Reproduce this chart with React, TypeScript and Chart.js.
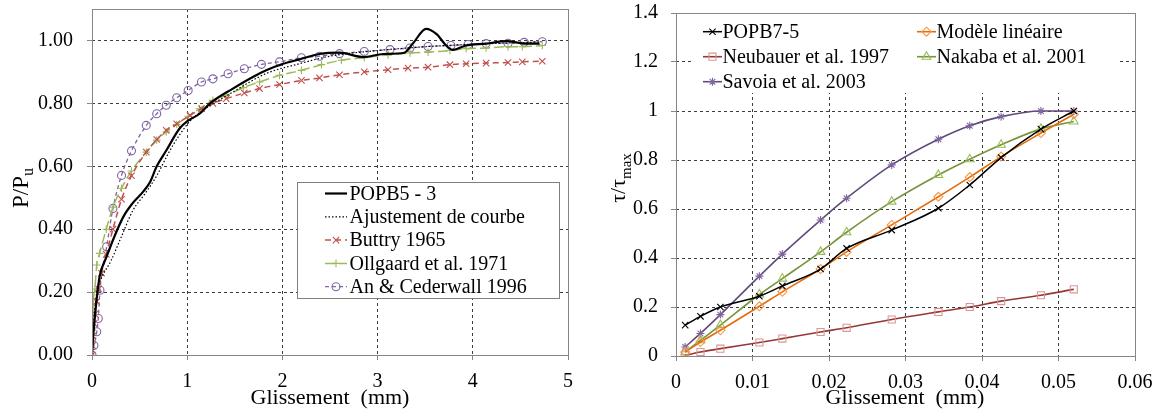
import React, { useEffect, useRef } from 'react';
import { Chart, registerables } from 'chart.js';

Chart.register(...registerables);

const FONT = '"Liberation Serif", "DejaVu Serif", serif';

// ---------------- Left chart: P/Pu vs Glissement (mm) ----------------
const popb53X = [0, 0.01, 0.03, 0.05, 0.08, 0.15, 0.24, 0.33, 0.42, 0.54, 0.61, 0.68, 0.78, 0.92, 1.01, 1.13, 1.24, 1.48, 1.69, 1.83, 2.0, 2.18, 2.39, 2.6, 2.85, 3.06, 3.28, 3.37, 3.51, 3.62, 3.72, 3.79, 3.93, 4.14, 4.35, 4.56, 4.7];
const popb53Y = [0, 0.05, 0.12, 0.18, 0.25, 0.31, 0.38, 0.44, 0.48, 0.52, 0.55, 0.6, 0.65, 0.72, 0.745, 0.767, 0.8, 0.847, 0.884, 0.905, 0.925, 0.94, 0.957, 0.961, 0.947, 0.957, 0.961, 0.99, 1.037, 1.02, 0.984, 0.97, 0.984, 0.99, 0.998, 0.99, 0.99];

const fitX = [0, 0.02, 0.05, 0.1, 0.2, 0.3, 0.43, 0.55, 0.68, 0.8, 0.92, 1.05, 1.2, 1.48, 1.83, 2.18, 2.5, 3.0, 3.5, 4.0, 4.7];
const fitY = [0, 0.11, 0.2, 0.245, 0.3, 0.37, 0.46, 0.51, 0.57, 0.64, 0.7, 0.75, 0.785, 0.836, 0.895, 0.926, 0.95, 0.968, 0.98, 0.988, 0.995];

const buttryX = [0, 0.005, 0.01, 0.02, 0.03, 0.05, 0.07, 0.1, 0.15, 0.22, 0.31, 0.415, 0.57, 0.68, 0.78, 0.89, 1.03, 1.15, 1.27, 1.41, 1.6, 1.76, 1.97, 2.2, 2.39, 2.6, 2.86, 3.11, 3.32, 3.53, 3.76, 3.93, 4.14, 4.37, 4.52, 4.73];
const buttryY = [0, 0.03, 0.06, 0.1, 0.13, 0.17, 0.21, 0.26, 0.32, 0.4, 0.495, 0.57, 0.645, 0.685, 0.714, 0.735, 0.762, 0.783, 0.8, 0.815, 0.833, 0.847, 0.86, 0.873, 0.881, 0.891, 0.9, 0.907, 0.912, 0.915, 0.923, 0.926, 0.928, 0.93, 0.932, 0.934];

const ollgaardX = [0, 0.002, 0.005, 0.01, 0.015, 0.03, 0.05, 0.08, 0.15, 0.22, 0.31, 0.415, 0.57, 0.68, 0.78, 0.89, 1.01, 1.13, 1.27, 1.41, 1.59, 1.76, 1.97, 2.2, 2.41, 2.62, 2.86, 3.11, 3.34, 3.53, 3.76, 3.93, 4.14, 4.37, 4.52, 4.73];
const ollgaardY = [0, 0.04, 0.08, 0.13, 0.175, 0.21, 0.286, 0.323, 0.4, 0.47, 0.53, 0.585, 0.645, 0.683, 0.709, 0.733, 0.759, 0.783, 0.81, 0.825, 0.85, 0.868, 0.889, 0.905, 0.923, 0.937, 0.945, 0.954, 0.96, 0.963, 0.968, 0.974, 0.976, 0.98, 0.98, 0.984];

const anX = [0, 0.02, 0.05, 0.066, 0.084, 0.154, 0.22, 0.31, 0.415, 0.57, 0.68, 0.78, 0.89, 1.01, 1.15, 1.27, 1.43, 1.6, 1.78, 1.97, 2.2, 2.39, 2.6, 2.86, 3.13, 3.34, 3.53, 3.77, 3.95, 4.14, 4.37, 4.54, 4.73];
const anY = [0, 0.03, 0.074, 0.116, 0.206, 0.344, 0.466, 0.571, 0.649, 0.73, 0.767, 0.794, 0.818, 0.841, 0.868, 0.878, 0.894, 0.91, 0.924, 0.932, 0.945, 0.95, 0.958, 0.965, 0.971, 0.976, 0.981, 0.984, 0.987, 0.99, 0.991, 0.994, 0.996];

const leftLabels = ['POPB5 - 3', 'Ajustement de courbe', 'Buttry 1965', 'Ollgaard et al. 1971', 'An & Cederwall 1996'];

// ---------------- Right chart: tau/tau_max vs Glissement (mm) ----------------
const slipX = [0.0012, 0.0032, 0.0058, 0.0109, 0.0139, 0.0189, 0.0223, 0.0282, 0.0343, 0.0384, 0.0425, 0.0477, 0.052];
const popb75Y = [0.126, 0.162, 0.2, 0.244, 0.286, 0.355, 0.439, 0.514, 0.603, 0.698, 0.81, 0.926, 1.0];
const lineaireY = [0.016, 0.057, 0.105, 0.203, 0.262, 0.355, 0.425, 0.535, 0.65, 0.73, 0.814, 0.91, 0.987];
const neubauerY = [0.003, 0.016, 0.03, 0.055, 0.071, 0.098, 0.115, 0.149, 0.18, 0.2, 0.224, 0.248, 0.272];
const nakabaY = [0.016, 0.064, 0.126, 0.251, 0.316, 0.425, 0.505, 0.63, 0.739, 0.803, 0.862, 0.927, 0.957];
const savoiaY = [0.037, 0.092, 0.169, 0.326, 0.416, 0.555, 0.644, 0.78, 0.885, 0.94, 0.977, 1.0, 1.0];

const rightLabels = ['POPB7-5', 'Modèle linéaire', 'Neubauer et al. 1997', 'Nakaba et al. 2001', 'Savoia et al. 2003'];

const xTitle = 'Glissement  (mm)';

const pts = (xs: number[], ys: number[]) => xs.map((x, i) => ({ x, y: ys[i] }));

function drawMarker(ctx: CanvasRenderingContext2D, style: string, x: number, y: number, r: number, color: string, lw: number) {
  ctx.save();
  ctx.setLineDash([]);
  ctx.strokeStyle = color;
  ctx.lineWidth = lw;
  ctx.beginPath();
  const d = r * Math.SQRT1_2;
  switch (style) {
    case 'circle':
      ctx.arc(x, y, r, 0, Math.PI * 2);
      break;
    case 'cross':
      ctx.moveTo(x - r, y); ctx.lineTo(x + r, y);
      ctx.moveTo(x, y - r); ctx.lineTo(x, y + r);
      break;
    case 'crossRot':
      ctx.moveTo(x - d, y - d); ctx.lineTo(x + d, y + d);
      ctx.moveTo(x - d, y + d); ctx.lineTo(x + d, y - d);
      break;
    case 'star':
      ctx.moveTo(x - r, y); ctx.lineTo(x + r, y);
      ctx.moveTo(x, y - r); ctx.lineTo(x, y + r);
      ctx.moveTo(x - d, y - d); ctx.lineTo(x + d, y + d);
      ctx.moveTo(x - d, y + d); ctx.lineTo(x + d, y - d);
      break;
    case 'rect':
      ctx.rect(x - d, y - d, 2 * d, 2 * d);
      break;
    case 'rectRot':
      ctx.moveTo(x, y - r); ctx.lineTo(x + r, y); ctx.lineTo(x, y + r); ctx.lineTo(x - r, y); ctx.closePath();
      break;
    case 'triangle':
      ctx.moveTo(x, y - r);
      ctx.lineTo(x + 0.866 * r, y + 0.5 * r);
      ctx.lineTo(x - 0.866 * r, y + 0.5 * r);
      ctx.closePath();
      break;
  }
  ctx.stroke();
  ctx.restore();
}

type LegendPos = { x1: number; x2: number; tx: number; y: number };

function makeDecor(cfg: {
  legendBox: { x: number; y: number; w: number; h: number; stroke: boolean };
  legendPos: LegendPos[];
  xTitleX: number; xTitleY: number;
  yTitleMain: string; yTitleSub: string; yTitleX: number; yTitleY: number; yTitleSize: number; ySubSize: number; ySubOffset: number;
}) {
  return {
    id: 'decor',
    afterDraw(chart: any) {
      const ctx: CanvasRenderingContext2D = chart.ctx;
      const a = chart.chartArea;
      ctx.save();
      const b = cfg.legendBox;
      ctx.fillStyle = '#ffffff';
      ctx.fillRect(b.x, b.y, b.w, b.h);
      if (b.stroke) {
        ctx.strokeStyle = '#7f7f7f';
        ctx.lineWidth = 1;
        ctx.setLineDash([]);
        ctx.strokeRect(Math.round(b.x) + 0.5, Math.round(b.y) + 0.5, Math.round(b.w), Math.round(b.h));
      }
      ctx.strokeStyle = '#868686';
      ctx.lineWidth = 1;
      ctx.setLineDash([]);
      ctx.strokeRect(Math.round(a.left) + 0.5, Math.round(a.top) + 0.5, Math.round(a.right - a.left), Math.round(a.bottom - a.top));
      chart.data.datasets.forEach((ds: any, i: number) => {
        const p = cfg.legendPos[i];
        if (!p) return;
        ctx.save();
        ctx.strokeStyle = ds.borderColor;
        ctx.lineWidth = ds.borderWidth;
        ctx.setLineDash(ds.borderDash || []);
        ctx.beginPath();
        ctx.moveTo(p.x1, p.y);
        ctx.lineTo(p.x2, p.y);
        ctx.stroke();
        ctx.restore();
        if (ds.pointRadius > 0) {
          drawMarker(ctx, ds.pointStyle, (p.x1 + p.x2) / 2, p.y, ds.pointRadius, ds.pointBorderColor, ds.pointBorderWidth);
        }
        ctx.fillStyle = '#000';
        ctx.font = `20px ${FONT}`;
        ctx.textAlign = 'left';
        ctx.textBaseline = 'middle';
        ctx.fillText(ds.label, p.tx, p.y + 1);
      });
      ctx.fillStyle = '#000';
      ctx.font = `22px ${FONT}`;
      ctx.textAlign = 'center';
      ctx.textBaseline = 'middle';
      ctx.fillText(xTitle, cfg.xTitleX, cfg.xTitleY);
      ctx.save();
      ctx.translate(cfg.yTitleX, cfg.yTitleY);
      ctx.rotate(-Math.PI / 2);
      ctx.textAlign = 'left';
      ctx.textBaseline = 'alphabetic';
      ctx.font = `${cfg.yTitleSize}px ${FONT}`;
      const wMain = ctx.measureText(cfg.yTitleMain).width;
      ctx.font = `${cfg.ySubSize}px ${FONT}`;
      const wSub = ctx.measureText(cfg.yTitleSub).width;
      const start = -(wMain + wSub) / 2;
      ctx.font = `${cfg.yTitleSize}px ${FONT}`;
      ctx.fillText(cfg.yTitleMain, start, 0);
      ctx.font = `${cfg.ySubSize}px ${FONT}`;
      ctx.fillText(cfg.yTitleSub, start + wMain, cfg.ySubOffset);
      ctx.restore();
      ctx.restore();
    },
  };
}

function axisCommon(extra: any) {
  return {
    type: 'linear',
    grid: {
      color: '#3c3c3c',
      lineWidth: 1,
      drawTicks: true,
      tickLength: 5,
      tickColor: '#868686',
      tickBorderDash: [],
      tickWidth: 1,
    },
    border: { display: false, dash: [3, 3] },
    ...extra,
  };
}

const fitX_ = (h: number) => (s: any) => { s.height = h; s.paddingLeft = 0; s.paddingRight = 0; s.paddingTop = 0; s.paddingBottom = 0; };
const fitY_ = (w: number) => (s: any) => { s.width = w; s.paddingLeft = 0; s.paddingRight = 0; s.paddingTop = 0; s.paddingBottom = 0; };

function leftConfig(): any {
  const mk = (label: string, xs: number[], ys: number[], o: any) => ({
    label,
    data: pts(xs, ys),
    showLine: true,
    fill: false,
    cubicInterpolationMode: 'monotone',
    pointBackgroundColor: 'rgba(0,0,0,0)',
    pointBorderWidth: 1.1,
    pointRadius: 0,
    ...o,
  });
  const datasets = [
    mk(leftLabels[0], popb53X, popb53Y, { borderColor: '#000000', borderWidth: 2.2, borderDash: [] }),
    mk(leftLabels[1], fitX, fitY, { borderColor: '#000000', borderWidth: 1.2, borderDash: [1.5, 2] }),
    mk(leftLabels[2], buttryX, buttryY, { borderColor: '#C0504D', borderWidth: 1.5, borderDash: [6, 4], pointStyle: 'crossRot', pointRadius: 4.5, pointBorderColor: '#C0504D' }),
    mk(leftLabels[3], ollgaardX, ollgaardY, { borderColor: '#9BBB59', borderWidth: 1.5, borderDash: [10, 4], pointStyle: 'cross', pointRadius: 3.8, pointBorderColor: '#9BBB59' }),
    mk(leftLabels[4], anX, anY, { borderColor: '#8064A2', borderWidth: 1.3, borderDash: [4, 3], pointStyle: 'circle', pointRadius: 4, pointBorderColor: '#8064A2' }),
  ];
  return {
    type: 'scatter',
    data: { datasets },
    options: {
      responsive: false,
      animation: false,
      devicePixelRatio: 1,
      events: [],
      layout: { padding: { left: 0, right: 12, top: 9, bottom: 0 } },
      plugins: { legend: { display: false }, tooltip: { enabled: false } },
      scales: {
        x: axisCommon({
          min: 0, max: 5,
          ticks: { stepSize: 1, color: '#000', font: { family: FONT, size: 20 }, padding: 10, callback: (v: number) => String(v) },
          afterFit: fitX_(63),
        }),
        y: axisCommon({
          min: 0, max: 1.1,
          ticks: { stepSize: 0.2, includeBounds: false, color: '#000', font: { family: FONT, size: 20 }, padding: 14, callback: (v: number) => v.toFixed(2) },
          afterFit: fitY_(92),
        }),
      },
    },
    plugins: [makeDecor({
      legendBox: { x: 297, y: 182, w: 262, h: 116, stroke: true },
      legendPos: [
        { x1: 325, x2: 347, tx: 349.5, y: 193.5 },
        { x1: 325, x2: 347, tx: 349.5, y: 216.8 },
        { x1: 325, x2: 347, tx: 349.5, y: 240.1 },
        { x1: 325, x2: 347, tx: 349.5, y: 263.4 },
        { x1: 325, x2: 347, tx: 349.5, y: 286.7 },
      ],
      xTitleX: 330, xTitleY: 398,
      yTitleMain: 'P/P', yTitleSub: 'u', yTitleX: 28, yTitleY: 188, yTitleSize: 23, ySubSize: 16, ySubOffset: 5,
    })],
  };
}

function rightConfig(): any {
  const mk = (label: string, ys: number[], o: any) => ({
    label,
    data: pts(slipX, ys),
    showLine: true,
    fill: false,
    cubicInterpolationMode: 'monotone',
    pointBackgroundColor: 'rgba(0,0,0,0)',
    pointBorderWidth: 1.1,
    borderDash: [],
    ...o,
  });
  const datasets = [
    mk(rightLabels[0], popb75Y, { borderColor: '#000000', borderWidth: 1.5, pointStyle: 'crossRot', pointRadius: 4.5, pointBorderColor: '#000000' }),
    mk(rightLabels[1], lineaireY, { borderColor: '#E46C0A', borderWidth: 1.6, pointStyle: 'rectRot', pointRadius: 4.5, pointBorderColor: '#F79646' }),
    mk(rightLabels[2], neubauerY, { borderColor: '#953735', borderWidth: 1.6, pointStyle: 'rect', pointRadius: 5, pointBorderColor: '#D99694' }),
    mk(rightLabels[3], nakabaY, { borderColor: '#77933C', borderWidth: 1.6, pointStyle: 'triangle', pointRadius: 5, pointBorderColor: '#9BBB59' }),
    mk(rightLabels[4], savoiaY, { borderColor: '#604A7B', borderWidth: 1.6, pointStyle: 'star', pointRadius: 4, pointBorderColor: '#8064A2' }),
  ];
  return {
    type: 'scatter',
    data: { datasets },
    options: {
      responsive: false,
      animation: false,
      devicePixelRatio: 1,
      events: [],
      layout: { padding: { left: 0, right: 26, top: 13, bottom: 0 } },
      plugins: { legend: { display: false }, tooltip: { enabled: false } },
      scales: {
        x: axisCommon({
          min: 0, max: 0.06,
          ticks: { stepSize: 0.01, color: '#000', font: { family: FONT, size: 20 }, padding: 10, callback: (v: number) => (Math.abs(v) < 1e-9 ? '0' : v.toFixed(2)) },
          afterFit: fitX_(62),
        }),
        y: axisCommon({
          min: 0, max: 1.4,
          ticks: { stepSize: 0.2, color: '#000', font: { family: FONT, size: 20 }, padding: 13, callback: (v: number) => String(Math.round(v * 10) / 10) },
          afterFit: fitY_(96),
        }),
      },
    },
    plugins: [makeDecor({
      legendBox: { x: 112, y: 14, w: 426, h: 79, stroke: false },
      legendPos: [
        { x1: 123, x2: 142, tx: 142.5, y: 31.7 },
        { x1: 337, x2: 356, tx: 356.5, y: 31.7 },
        { x1: 123, x2: 142, tx: 142.5, y: 56.7 },
        { x1: 337, x2: 356, tx: 356.5, y: 56.7 },
        { x1: 123, x2: 142, tx: 142.5, y: 81.7 },
      ],
      xTitleX: 325, xTitleY: 398,
      yTitleMain: 'τ/τ', yTitleSub: 'max', yTitleX: 45, yTitleY: 178, yTitleSize: 22, ySubSize: 15, ySubOffset: 6,
    })],
  };
}

function ChartCanvas({ config, left, width }: { config: () => any; left: number; width: number }) {
  const ref = useRef<HTMLCanvasElement | null>(null);
  useEffect(() => {
    if (!ref.current) return;
    const chart = new Chart(ref.current, config());
    return () => chart.destroy();
  }, [config]);
  return (
    <canvas
      ref={ref}
      width={width}
      height={418}
      style={{ position: 'absolute', left, top: 0, width, height: 418, display: 'block' }}
    />
  );
}

export default function App() {
  return (
    <div style={{ position: 'absolute', left: 0, top: 0, width: 1161, height: 418, background: '#ffffff', overflow: 'hidden' }}>
      <ChartCanvas config={leftConfig} left={0} width={580} />
      <ChartCanvas config={rightConfig} left={580} width={581} />
    </div>
  );
}
